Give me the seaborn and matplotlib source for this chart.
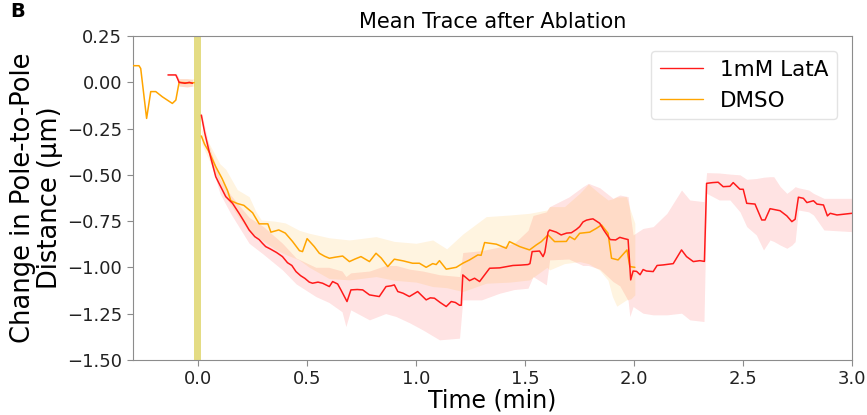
import matplotlib
matplotlib.use("Agg")
import matplotlib.pyplot as plt
import seaborn as sns

sns.set_style("ticks", rc={"axes.edgecolor": "#8c8c8c", "xtick.color": "#8c8c8c",
                           "ytick.color": "#8c8c8c", "text.color": "black",
                           "axes.labelcolor": "black"})
plt.rcParams["font.family"] = ["DejaVu Sans"]

# ---------------------------------------------------------------
# data (time in min, change in distance in um)
# ---------------------------------------------------------------
# 1mM LatA, before ablation
lat_pre_t = [-0.138, -0.102, -0.094, -0.087, -0.06, -0.04, -0.026]
lat_pre_v = [0.04, 0.04, 0.02, 0.0, -0.005, 0.0, -0.005]
lat_pre_band_t = [-0.10, -0.087, -0.05, -0.026]
lat_pre_lo = [0.03, -0.02, -0.025, -0.02]
lat_pre_hi = [0.05, 0.02, 0.02, 0.015]

# 1mM LatA, after ablation
lat_t = [0.015, 0.03, 0.05, 0.081, 0.096, 0.127, 0.158, 0.188, 0.21, 0.234,
         0.26, 0.28, 0.295, 0.31, 0.33, 0.36, 0.387, 0.41, 0.43, 0.449,
         0.47, 0.49, 0.51, 0.525, 0.55, 0.571, 0.602, 0.617, 0.64, 0.655,
         0.683, 0.701, 0.73, 0.755, 0.786, 0.831, 0.862, 0.885, 0.9, 0.916,
         0.94, 0.969, 1.007, 1.046, 1.065, 1.084, 1.11, 1.138, 1.161, 1.18,
         1.199, 1.207, 1.214, 1.245, 1.268, 1.291, 1.337, 1.383, 1.42, 1.444,
         1.48, 1.513, 1.522, 1.532, 1.566, 1.582, 1.59, 1.605, 1.612, 1.643,
         1.665, 1.69, 1.712, 1.735, 1.75, 1.765, 1.781, 1.80, 1.811, 1.842,
         1.86, 1.89, 1.915, 1.934, 1.955, 1.972, 1.984, 1.995, 2.011, 2.027,
         2.041, 2.056, 2.087, 2.105, 2.133, 2.179, 2.217, 2.24, 2.271, 2.301,
         2.322, 2.332, 2.36, 2.385, 2.408, 2.439, 2.454, 2.485, 2.5, 2.516,
         2.554, 2.585, 2.6, 2.623, 2.669, 2.7, 2.723, 2.738, 2.753, 2.776,
         2.792, 2.822, 2.838, 2.868, 2.886, 2.899, 2.93, 2.998]
lat_v = [-0.177, -0.27, -0.37, -0.51, -0.546, -0.618, -0.654, -0.708, -0.75, -0.798,
         -0.834, -0.85, -0.87, -0.888, -0.9, -0.92, -0.942, -0.975, -0.99, -1.023,
         -1.045, -1.06, -1.08, -1.086, -1.08, -1.086, -1.104, -1.077, -1.09, -1.122,
         -1.185, -1.122, -1.12, -1.122, -1.149, -1.158, -1.104, -1.1, -1.095, -1.131,
         -1.14, -1.158, -1.131, -1.176, -1.165, -1.167, -1.19, -1.212, -1.185, -1.19,
         -1.205, -1.205, -1.041, -1.072, -1.059, -1.077, -1.005, -1.003, -0.995, -0.99,
         -0.988, -0.985, -0.98, -0.915, -0.912, -0.942, -0.92, -0.81, -0.798, -0.81,
         -0.825, -0.815, -0.813, -0.795, -0.78, -0.755, -0.745, -0.74, -0.738, -0.762,
         -0.798, -0.85, -0.852, -0.838, -0.845, -0.85, -1.068, -1.02, -1.022, -1.04,
         -1.012, -1.02, -1.023, -0.99, -0.987, -0.98, -0.906, -0.942, -0.969, -0.964,
         -0.968, -0.546, -0.542, -0.54, -0.564, -0.562, -0.542, -0.578, -0.578, -0.654,
         -0.658, -0.744, -0.744, -0.683, -0.694, -0.722, -0.753, -0.74, -0.621, -0.627,
         -0.65, -0.64, -0.658, -0.663, -0.722, -0.708, -0.717, -0.708]
lat_band_t = [0.015, 0.05, 0.1, 0.15, 0.234, 0.3, 0.387, 0.45, 0.54, 0.6,
              0.66, 0.678, 0.70, 0.786, 0.86, 0.908, 0.97, 1.03, 1.107, 1.199,
              1.214, 1.3, 1.383, 1.45, 1.513, 1.536, 1.597, 1.612, 1.7, 1.765,
              1.79, 1.842, 1.903, 1.934, 1.972, 1.98, 1.995, 2.04, 2.087, 2.15,
              2.217, 2.255, 2.32, 2.332, 2.39, 2.439, 2.485, 2.516, 2.56, 2.593,
              2.623, 2.64, 2.67, 2.7, 2.723, 2.738, 2.753, 2.8, 2.822, 2.87, 2.998]
lat_lo = [-0.20, -0.40, -0.60, -0.71, -0.87, -0.93, -1.014, -1.09, -1.158, -1.19,
          -1.24, -1.32, -1.23, -1.284, -1.25, -1.266, -1.30, -1.338, -1.392, -1.383,
          -1.176, -1.176, -1.14, -1.12, -1.113, -1.05, -1.095, -0.96, -0.955, -0.99,
          -0.99, -1.01, -1.077, -1.10, -1.18, -1.266, -1.212, -1.248, -1.257, -1.257,
          -1.248, -1.284, -1.293, -0.60, -0.636, -0.636, -0.70, -0.78, -0.825, -0.906,
          -0.852, -0.86, -0.88, -0.897, -0.88, -0.861, -0.69, -0.70, -0.717, -0.798, -0.807]
lat_hi = [-0.16, -0.34, -0.52, -0.61, -0.73, -0.78, -0.87, -0.95, -1.0, -1.0,
          -1.02, -1.05, -1.03, -1.02, -0.99, -0.99, -1.01, -1.02, -1.04, -1.05,
          -0.92, -0.91, -0.89, -0.87, -0.80, -0.72, -0.70, -0.672, -0.62, -0.564,
          -0.546, -0.57, -0.627, -0.609, -0.618, -0.70, -0.825, -0.79, -0.78, -0.708,
          -0.582, -0.636, -0.645, -0.488, -0.49, -0.496, -0.50, -0.524, -0.52, -0.513,
          -0.51, -0.51, -0.564, -0.60, -0.58, -0.564, -0.57, -0.582, -0.60, -0.627, -0.627]

# DMSO, before ablation
dmso_pre_t = [-0.302, -0.271, -0.263, -0.236, -0.217, -0.194, -0.164, -0.118,
              -0.102, -0.087, -0.05, -0.018]
dmso_pre_v = [0.09, 0.09, 0.075, -0.195, -0.05, -0.05, -0.078, -0.114,
              -0.096, 0.0, -0.003, -0.002]
dmso_pre_band_t = [-0.09, -0.05, -0.018]
dmso_pre_lo = [-0.02, -0.025, -0.02]
dmso_pre_hi = [0.02, 0.02, 0.02]

# DMSO, after ablation
dmso_t = [0.015, 0.03, 0.05, 0.081, 0.11, 0.135, 0.15, 0.18, 0.21, 0.25,
          0.28, 0.32, 0.334, 0.37, 0.40, 0.433, 0.465, 0.479, 0.50, 0.533,
          0.556, 0.58, 0.602, 0.63, 0.663, 0.694, 0.72, 0.747, 0.786, 0.816,
          0.84, 0.87, 0.9, 0.94, 0.984, 1.015, 1.046, 1.076, 1.092, 1.107,
          1.138, 1.184, 1.214, 1.245, 1.283, 1.298, 1.314, 1.368, 1.413, 1.428,
          1.475, 1.52, 1.551, 1.574, 1.605, 1.635, 1.689, 1.704, 1.727, 1.75,
          1.796, 1.827, 1.85, 1.88, 1.896, 1.926, 1.967, 1.98, 2.003]
dmso_v = [-0.29, -0.335, -0.375, -0.456, -0.52, -0.585, -0.64, -0.655, -0.665, -0.705,
          -0.765, -0.765, -0.81, -0.798, -0.815, -0.86, -0.91, -0.915, -0.845, -0.888,
          -0.924, -0.94, -0.951, -0.945, -0.939, -0.969, -0.955, -0.942, -0.969, -0.924,
          -0.95, -0.996, -0.956, -0.965, -0.978, -0.978, -1.0, -0.98, -0.985, -0.964,
          -1.01, -1.0, -0.978, -0.96, -0.933, -0.935, -0.866, -0.875, -0.897, -0.861,
          -0.888, -0.906, -0.879, -0.861, -0.825, -0.861, -0.86, -0.834, -0.85, -0.816,
          -0.81, -0.789, -0.771, -0.816, -0.951, -0.96, -0.906, -0.996, -1.0]
dmso_band_t = [0.015, 0.05, 0.1, 0.127, 0.18, 0.234, 0.266, 0.29, 0.35, 0.40,
               0.464, 0.51, 0.6, 0.694, 0.816, 0.9, 1.0, 1.076, 1.14, 1.214,
               1.321, 1.43, 1.52, 1.60, 1.612, 1.68, 1.75, 1.79, 1.84, 1.88,
               1.90, 1.92, 1.964, 1.985, 2.003]
dmso_lo = [-0.33, -0.42, -0.55, -0.62, -0.72, -0.807, -0.83, -0.85, -0.90, -0.93,
           -0.96, -1.0, -1.06, -1.068, -1.05, -1.07, -1.08, -1.104, -1.11, -1.131,
           -1.086, -1.08, -1.068, -1.0, -1.014, -0.98, -0.969, -0.98, -1.014, -1.07,
           -1.158, -1.21, -1.176, -1.17, -1.149]
dmso_hi = [-0.25, -0.33, -0.44, -0.47, -0.58, -0.618, -0.70, -0.744, -0.75, -0.76,
           -0.80, -0.816, -0.84, -0.852, -0.834, -0.86, -0.87, -0.852, -0.9, -0.82,
           -0.726, -0.717, -0.708, -0.69, -0.672, -0.672, -0.60, -0.55, -0.60, -0.636,
           -0.63, -0.62, -0.618, -0.70, -0.762]

x_ticks = [0.0, 0.5, 1.0, 1.5, 2.0, 2.5, 3.0]
y_ticks = [-1.5, -1.25, -1.0, -0.75, -0.5, -0.25, 0.0, 0.25]

LAT_COLOR = "#ff1a1a"
DMSO_COLOR = "#ffa500"

fig = plt.figure(figsize=(8.67, 4.15), dpi=100)
ax = fig.add_axes([0.153, 0.133, 0.83, 0.78])

# ablation marker
ax.axvspan(-0.017, 0.014, color="#e4dc84", lw=0, zorder=1)

# shaded spread
for bt, lo, hi, c in [(lat_pre_band_t, lat_pre_lo, lat_pre_hi, LAT_COLOR),
                      (lat_band_t, lat_lo, lat_hi, LAT_COLOR),
                      (dmso_pre_band_t, dmso_pre_lo, dmso_pre_hi, DMSO_COLOR),
                      (dmso_band_t, dmso_lo, dmso_hi, DMSO_COLOR)]:
    ax.fill_between(bt, lo, hi, color=c, alpha=0.12, lw=0, zorder=2)

# mean traces
sns.lineplot(x=lat_t, y=lat_v, color=LAT_COLOR, lw=1.1, ax=ax, label="1mM LatA", zorder=4)
sns.lineplot(x=lat_pre_t, y=lat_pre_v, color=LAT_COLOR, lw=1.1, ax=ax, zorder=4)
sns.lineplot(x=dmso_t, y=dmso_v, color=DMSO_COLOR, lw=1.1, ax=ax, label="DMSO", zorder=3)
sns.lineplot(x=dmso_pre_t, y=dmso_pre_v, color=DMSO_COLOR, lw=1.1, ax=ax, zorder=3)

ax.set_xlim(-0.3, 3.0)
ax.set_ylim(-1.5, 0.25)
ax.set_xticks(x_ticks)
ax.set_yticks(y_ticks)
ax.tick_params(labelsize=13, labelcolor="#222222", length=4)

ax.set_title("Mean Trace after Ablation", fontsize=15)
ax.set_xlabel("Time (min)", fontsize=17, labelpad=0)
ax.set_ylabel("Change in Pole-to-Pole\nDistance (\u03bcm)", fontsize=18.5, linespacing=1.05,
              labelpad=3)

leg = ax.legend(loc="upper right", fontsize=15.5, frameon=True, borderaxespad=0.7)
leg.get_frame().set_edgecolor("#dddddd")
for line in leg.get_lines():
    line.set_linewidth(1.0)

fig.text(0.012, 0.995, "B", fontsize=14, fontweight="bold", va="top", ha="left")

fig.savefig("out.png", dpi=100)
